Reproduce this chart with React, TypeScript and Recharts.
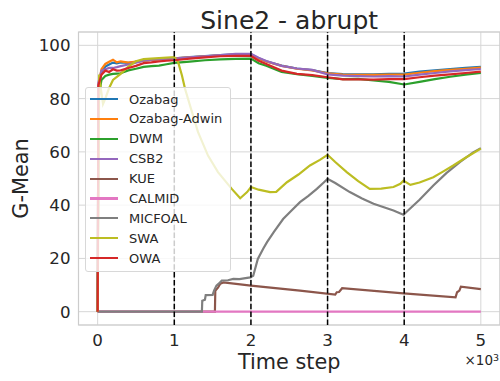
import React from 'react';
import {
  LineChart,
  Line,
  XAxis,
  YAxis,
  CartesianGrid,
  ReferenceLine,
  ReferenceArea,
  Legend,
  Label,
} from 'recharts';

const FONT = "'DejaVu Sans', 'Noto Sans', sans-serif";
const TEXT = '#262626';

// ---- shared time grid for the top group ----
const timeSteps = [0, 10, 50, 100, 150, 200, 250, 300, 400, 500, 600, 700, 800, 900, 1000, 1200, 1400, 1600, 1800, 2000, 2100, 2200, 2400, 2600, 2800, 3000, 3200, 3400, 3600, 3800, 4000, 4200, 4400, 4600, 4800, 5000];

const ozabagValues = [0, 84, 90, 92, 92.8, 93.5, 93.2, 93.6, 93.4, 93.8, 94.2, 94.5, 94.8, 95, 95.1, 95.6, 96, 96.3, 96.6, 96.7, 95.1, 94, 92.4, 91.3, 90.7, 89.6, 89.2, 89.1, 89.1, 89.3, 89.4, 90.1, 90.6, 91.1, 91.5, 91.9];
const ozabagAdwinValues = [0, 85, 91, 93, 93.8, 94.6, 93.6, 94, 93.5, 93.9, 94.2, 94.5, 94.8, 95, 95.1, 95.5, 95.9, 96.2, 96.5, 96.6, 95, 93.9, 92.3, 91.2, 90.6, 89.5, 89, 88.9, 88.9, 89, 89, 89.7, 90.3, 90.8, 91.2, 91.6];
const dwmValues = [0, 80, 87, 88.5, 89, 89.3, 89.4, 89.5, 90.6, 91.2, 91.9, 92.2, 92.4, 92.9, 93.4, 93.9, 94.4, 94.7, 94.9, 95, 93.3, 92.3, 90, 89.2, 88.5, 87.8, 87.3, 87.4, 86.8, 86.3, 85.3, 86.3, 87.3, 88.2, 89, 89.6];
const csb2Values = [0, 86, 90.5, 91, 91.5, 91.5, 91.8, 92.2, 92.8, 93.5, 94.3, 94.6, 94.9, 95, 95, 95.5, 95.9, 96.3, 96.8, 96.8, 95.3, 94.1, 92.3, 91.3, 90.8, 89.1, 88.6, 88.4, 88.3, 88.4, 88.3, 89, 89.6, 90.2, 90.7, 91.1];
const owaValues = [0, 85, 89, 90.5, 90, 91, 90.5, 90.6, 91.5, 92.3, 93.3, 93.6, 94, 94.2, 94.4, 95, 95.5, 95.9, 96, 96, 94.2, 93, 90.5, 89.3, 88.8, 88, 87.2, 87.2, 87.1, 87.3, 87.3, 88, 88.6, 89.1, 89.6, 90.1];

// ---- SWA ----
const swaTime = [0, 20, 40, 70, 100, 150, 200, 300, 400, 500, 600, 800, 1000, 1050, 1100, 1140, 1230, 1310, 1440, 1570, 1750, 1860, 1950, 2000, 2100, 2250, 2330, 2470, 2620, 2770, 2900, 3000, 3100, 3250, 3400, 3550, 3700, 3860, 3950, 3990, 4080, 4200, 4380, 4500, 4640, 4800, 5000];
const swaValues = [0, 89, 84, 78, 80, 84, 87, 89.3, 92, 94, 94.8, 95.2, 95.6, 93.7, 88.7, 83.7, 75, 67.4, 58.6, 52.4, 46.1, 42.6, 44.9, 46.8, 45.8, 44.9, 45, 48.6, 51.5, 54.9, 57, 58.9, 56.2, 52.4, 49, 46.1, 46.2, 46.8, 48, 49.2, 47.6, 48.5, 50.5, 52.5, 54.9, 57.8, 61.2];

// ---- KUE ----
const kueTime = [0, 1530, 1535, 1570, 1600, 1640, 2000, 2640, 3100, 3120, 3150, 3190, 3950, 4670, 4690, 4720, 4740, 5000];
const kueValues = [0, 0, 7.9, 9, 10.5, 11, 9.8, 7.9, 6.4, 7.3, 7.4, 8.8, 7, 5.4, 7.3, 7.9, 9.4, 8.5];

// ---- MICFOAL ----
const micfoalTime = [0, 1360, 1365, 1400, 1410, 1500, 1520, 1550, 1580, 1620, 1700, 1770, 1850, 1990, 2030, 2090, 2160, 2210, 2300, 2420, 2530, 2640, 2750, 2860, 2950, 3000, 3100, 3290, 3450, 3600, 3860, 3990, 4200, 4380, 4550, 4730, 4900, 5000];
const micfoalValues = [0, 0, 4.1, 4.5, 6.2, 6.3, 8, 9.8, 10.5, 11.7, 11.8, 12.3, 12.2, 12.9, 13.5, 19.8, 23.6, 26.1, 30, 34.8, 38, 41.1, 43.5, 46.1, 48.5, 49.9, 48.3, 44.9, 42.5, 40.5, 38, 36.4, 42, 47.4, 52, 56.2, 59.8, 61.4];

// ---- CALMID ----
const calmidTime = [0, 5000];
const calmidValues = [0, 0];

const xTicks = [0, 1000, 2000, 3000, 4000, 5000];
const yTicks = [0, 20, 40, 60, 80, 100];
const driftPoints = [1000, 2000, 3000, 4000];

const zip = (t: number[], v: number[]) => t.map((x, i) => ({ t: x, v: v[i] }));

const series = [
  { name: 'Ozabag', color: '#1f77b4', data: zip(timeSteps, ozabagValues) },
  { name: 'Ozabag-Adwin', color: '#ff7f0e', data: zip(timeSteps, ozabagAdwinValues) },
  { name: 'DWM', color: '#2ca02c', data: zip(timeSteps, dwmValues) },
  { name: 'CSB2', color: '#9467bd', data: zip(timeSteps, csb2Values) },
  { name: 'KUE', color: '#8c564b', data: zip(kueTime, kueValues) },
  { name: 'CALMID', color: '#e377c2', data: zip(calmidTime, calmidValues) },
  { name: 'MICFOAL', color: '#7f7f7f', data: zip(micfoalTime, micfoalValues) },
  { name: 'SWA', color: '#bcbd22', data: zip(swaTime, swaValues) },
  { name: 'OWA', color: '#d62728', data: zip(timeSteps, owaValues) },
];

const renderLegend = () => (
  <div
    style={{
      position: 'relative',
      boxSizing: 'border-box',
      width: 146,
      height: 185,
      background: 'rgba(255,255,255,0.8)',
      border: '1px solid #d8d8d8',
      borderRadius: 3,
      fontFamily: FONT,
    }}
  >
    {series.map((s, i) => (
      <div
        key={s.name}
        style={{
          position: 'absolute',
          left: 0,
          top: 1 + i * 19.9,
          height: 20,
          display: 'flex',
          alignItems: 'center',
        }}
      >
        <div style={{ marginLeft: 4, width: 28, height: 2.2, background: s.color }} />
        <div style={{ marginLeft: 11, fontSize: 13, color: TEXT, whiteSpace: 'nowrap', lineHeight: 1 }}>{s.name}</div>
      </div>
    ))}
  </div>
);

export default function App() {
  return (
    <div style={{ position: 'absolute', left: 0, top: 0, width: 500, height: 381, fontFamily: FONT }}>
      <LineChart width={500} height={381} margin={{ top: 32, right: 0, bottom: 29, left: 0 }}>
        <CartesianGrid stroke="#d6d6d6" strokeWidth={1} />
        <ReferenceArea x1={-250} x2={5250} y1={-5} y2={105} fill="none" stroke="#cccccc" strokeWidth={1.2} ifOverflow="visible" />
        <XAxis
          dataKey="t"
          type="number"
          domain={[-250, 5250]}
          ticks={xTicks}
          interval={0}
          allowDataOverflow
          tickFormatter={(v: number) => String(v / 1000)}
          tick={{ fontSize: 16.67, fill: TEXT, fontFamily: FONT }}
          tickLine={false}
          axisLine={false}
          tickSize={0}
          tickMargin={9}
          height={27}
        >
          <Label value="Time step" position="bottom" offset={2} style={{ fontSize: 20.8, fill: TEXT, fontFamily: FONT }} />
        </XAxis>
        <YAxis
          type="number"
          domain={[-5, 105]}
          ticks={yTicks}
          interval={0}
          allowDataOverflow
          tick={{ fontSize: 16.67, fill: TEXT, fontFamily: FONT }}
          tickLine={false}
          axisLine={false}
          tickSize={0}
          tickMargin={8}
          width={78.5}
        >
          <Label
            value="G-Mean"
            angle={-90}
            position="insideLeft"
            offset={20.8}
            style={{ fontSize: 20.8, fill: TEXT, fontFamily: FONT, textAnchor: 'middle' }}
          />
        </YAxis>
        {series.map((s) => (
          <Line
            key={s.name}
            data={s.data}
            dataKey="v"
            name={s.name}
            type="linear"
            stroke={s.color}
            strokeWidth={2.2}
            dot={false}
            activeDot={false}
            isAnimationActive={false}
          />
        ))}
        {driftPoints.map((x) => (
          <ReferenceLine key={x} x={x} stroke="#000000" strokeWidth={1.5} strokeDasharray="5.5 2.4" />
        ))}
        <Legend
          layout="vertical"
          align="center"
          verticalAlign="middle"
          wrapperStyle={{ left: 85, top: 87, width: 146, height: 185 }}
          content={renderLegend}
        />
      </LineChart>
      <div
        style={{
          position: 'absolute',
          left: 78.5,
          width: 421.3,
          top: 8,
          textAlign: 'center',
          fontSize: 25,
          lineHeight: 1,
          color: TEXT,
          whiteSpace: 'nowrap',
        }}
      >
        Sine2 - abrupt
      </div>
      <div
        style={{
          position: 'absolute',
          right: 1,
          top: 354,
          fontSize: 13.5,
          lineHeight: 1,
          color: TEXT,
          whiteSpace: 'nowrap',
        }}
      >
        ×10<span style={{ position: 'relative', top: '-0.45em', fontSize: '0.7em' }}>3</span>
      </div>
    </div>
  );
}
